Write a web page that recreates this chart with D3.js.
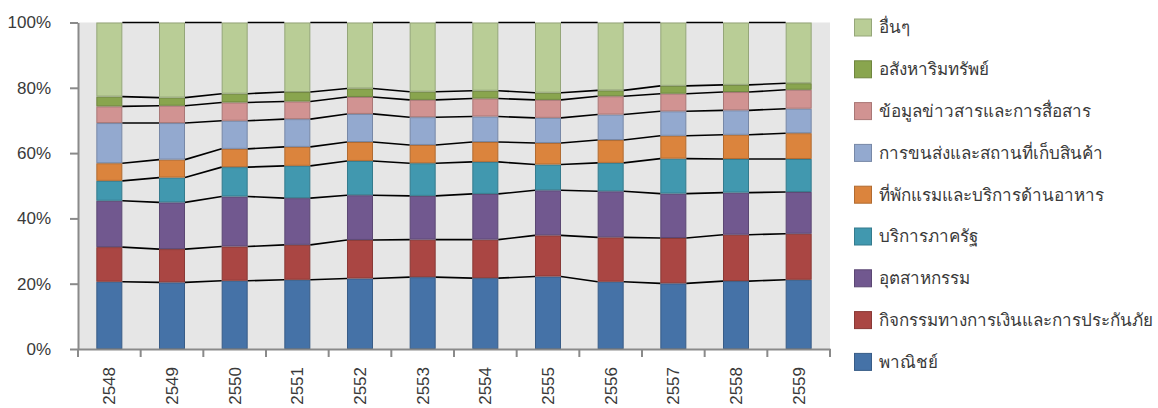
<!DOCTYPE html>
<html>
<head>
<meta charset="utf-8">
<script src="https://cdn.jsdelivr.net/npm/d3@7"></script>
<style>
  html, body { margin: 0; padding: 0; background: #fff; }
  svg { display: block; font-family: "Liberation Sans", Arial, sans-serif; }
</style>
</head>
<body>
<svg id="chart" width="1158" height="408"></svg>
<script>
// Years (Buddhist Era) on the category axis
const years = ["2548","2549","2550","2551","2552","2553","2554","2555","2556","2557","2558","2559"];

// Share of each sector per year (%), bottom of the stack first
const trade      = [20.6, 20.4, 20.9, 21.2, 21.6, 22.0, 21.7, 22.2, 20.6, 20.1, 20.8, 21.2];
const finance    = [10.6, 10.2, 10.5, 10.7, 11.8, 11.5, 11.8, 12.6, 13.6, 13.9, 14.2, 14.1];
const industry   = [14.2, 14.3, 15.3, 14.3, 13.7, 13.4, 14.0, 13.8, 14.1, 13.6, 12.9, 12.8];
const government = [ 6.1,  7.6,  9.0,  9.9, 10.5, 10.0,  9.8,  7.9,  8.7, 10.7, 10.3, 10.1];
const hotel      = [ 5.4,  5.5,  5.6,  5.8,  5.8,  5.6,  6.1,  6.6,  7.0,  7.0,  7.4,  7.9];
const transport  = [12.3, 11.2,  8.6,  8.5,  8.6,  8.5,  7.8,  7.7,  7.8,  7.5,  7.5,  7.5];
const infoComm   = [ 5.1,  5.3,  5.6,  5.4,  5.2,  5.3,  5.5,  5.5,  5.6,  5.4,  5.6,  5.8];
const realEstate = [ 3.0,  2.5,  2.7,  2.9,  2.6,  2.5,  2.4,  2.2,  1.8,  2.4,  2.2,  2.0];
const others     = [22.7, 23.0, 21.8, 21.3, 20.2, 21.2, 20.9, 21.5, 20.8, 19.4, 19.1, 18.6];

// Series names (stack order) and their fill colours
const seriesNames = [
  "พาณิชย์",
  "กิจกรรมทางการเงินและการประกันภัย",
  "อุตสาหกรรม",
  "บริการภาครัฐ",
  "ที่พักแรมและบริการด้านอาหาร",
  "การขนส่งและสถานที่เก็บสินค้า",
  "ข้อมูลข่าวสารและการสื่อสาร",
  "อสังหาริมทรัพย์",
  "อื่นๆ"
];
const seriesValues = [trade, finance, industry, government, hotel, transport, infoComm, realEstate, others];
const seriesColors = ["#4572a7", "#aa4643", "#71588f", "#4198af", "#db843d", "#93a9cf", "#d19392", "#89a54e", "#b9cd96"];

// Percentage ticks on the value axis
const yTicks = [0, 20, 40, 60, 80, 100];

// One row per year, keyed by series name
const rows = years.map((yr, i) => {
  const r = { year: yr };
  seriesNames.forEach((n, s) => { r[n] = seriesValues[s][i]; });
  return r;
});

const svg = d3.select("#chart");
const plot = { left: 78, right: 830, top: 22.5, bottom: 349 };

const x = d3.scaleBand()
  .domain(years)
  .range([plot.left, plot.right])
  .paddingInner(0.585)
  .paddingOuter(0.2925);

const y = d3.scaleLinear()
  .domain([0, 100])
  .range([plot.bottom, plot.top]);

const color = d3.scaleOrdinal().domain(seriesNames).range(seriesColors);

const stacked = d3.stack().keys(seriesNames)(rows);

// Plot background
svg.append("rect")
  .attr("x", plot.left)
  .attr("y", plot.top)
  .attr("width", plot.right - plot.left)
  .attr("height", plot.bottom - plot.top)
  .attr("fill", "#e6e6e6");

// Stacked bars
const layer = svg.append("g").selectAll("g")
  .data(stacked)
  .join("g")
  .attr("fill", d => color(d.key))
  .attr("stroke", d => d3.color(color(d.key)).darker(0.6))
  .attr("stroke-width", 1);

layer.selectAll("rect")
  .data(d => d)
  .join("rect")
  .attr("x", d => x(d.data.year) + 0.5)
  .attr("y", d => y(d[1]) + 0.5)
  .attr("width", x.bandwidth() - 1)
  .attr("height", d => Math.max(0, y(d[0]) - y(d[1]) - 1));

// Series lines joining the stack boundaries of neighbouring bars
const links = [];
stacked.forEach(s => {
  for (let i = 0; i < s.length - 1; i++) {
    links.push({
      x1: x(s[i].data.year) + x.bandwidth(),
      y1: y(s[i][1]),
      x2: x(s[i + 1].data.year),
      y2: y(s[i + 1][1])
    });
  }
});
svg.append("g")
  .selectAll("line")
  .data(links)
  .join("line")
  .attr("x1", d => d.x1).attr("y1", d => d.y1)
  .attr("x2", d => d.x2).attr("y2", d => d.y2)
  .attr("stroke", "#000")
  .attr("stroke-width", 1.6);

const axisColor = "#8a8a8a";
const textColor = "#3a3a3a";

// Value axis
const yAxis = svg.append("g")
  .attr("transform", `translate(${plot.left},0)`)
  .call(d3.axisLeft(y).tickValues(yTicks).tickFormat(d => d + "%").tickSize(8).tickSizeOuter(0).tickPadding(19));
yAxis.select(".domain").attr("stroke", axisColor).attr("stroke-width", 2);
yAxis.selectAll(".tick line").attr("stroke", axisColor).attr("stroke-width", 2);
yAxis.selectAll(".tick text")
  .attr("fill", textColor)
  .style("font-size", "17px")
  .style("font-family", "'Liberation Sans', Arial, sans-serif");

// Category axis: labels at bar centres, ticks at category boundaries
const xAxis = svg.append("g")
  .attr("transform", `translate(0,${plot.bottom})`)
  .call(d3.axisBottom(x).tickSize(0).tickSizeOuter(0));
xAxis.select(".domain").attr("stroke", axisColor).attr("stroke-width", 2);
xAxis.selectAll(".tick text")
  .attr("transform", "rotate(-90)")
  .attr("x", -18)
  .attr("y", 0)
  .attr("dy", "0.36em")
  .attr("text-anchor", "end")
  .attr("fill", textColor)
  .style("font-size", "17px")
  .style("font-family", "'Liberation Sans', Arial, sans-serif");

const step = x.step();
const boundaries = d3.range(years.length + 1).map(i => plot.left + i * step);
xAxis.append("g")
  .selectAll("line")
  .data(boundaries)
  .join("line")
  .attr("x1", d => d).attr("x2", d => d)
  .attr("y1", 0).attr("y2", 8)
  .attr("stroke", axisColor)
  .attr("stroke-width", 2);

// Legend, top of the stack listed first
const legendItems = seriesNames.slice().reverse();
const legend = svg.append("g")
  .attr("transform", "translate(854,18.5)");
const item = legend.selectAll("g")
  .data(legendItems)
  .join("g")
  .attr("transform", (d, i) => `translate(0,${i * 41.8})`);
item.append("rect")
  .attr("x", 0.5).attr("y", 0.5)
  .attr("width", 17).attr("height", 17)
  .attr("fill", d => color(d))
  .attr("stroke", d => d3.color(color(d)).darker(0.6))
  .attr("stroke-width", 1);
item.append("text")
  .attr("x", 25)
  .attr("y", 9)
  .attr("dy", "0.35em")
  .attr("fill", textColor)
  .style("font-size", "17px")
  .text(d => d);
</script>
</body>
</html>
